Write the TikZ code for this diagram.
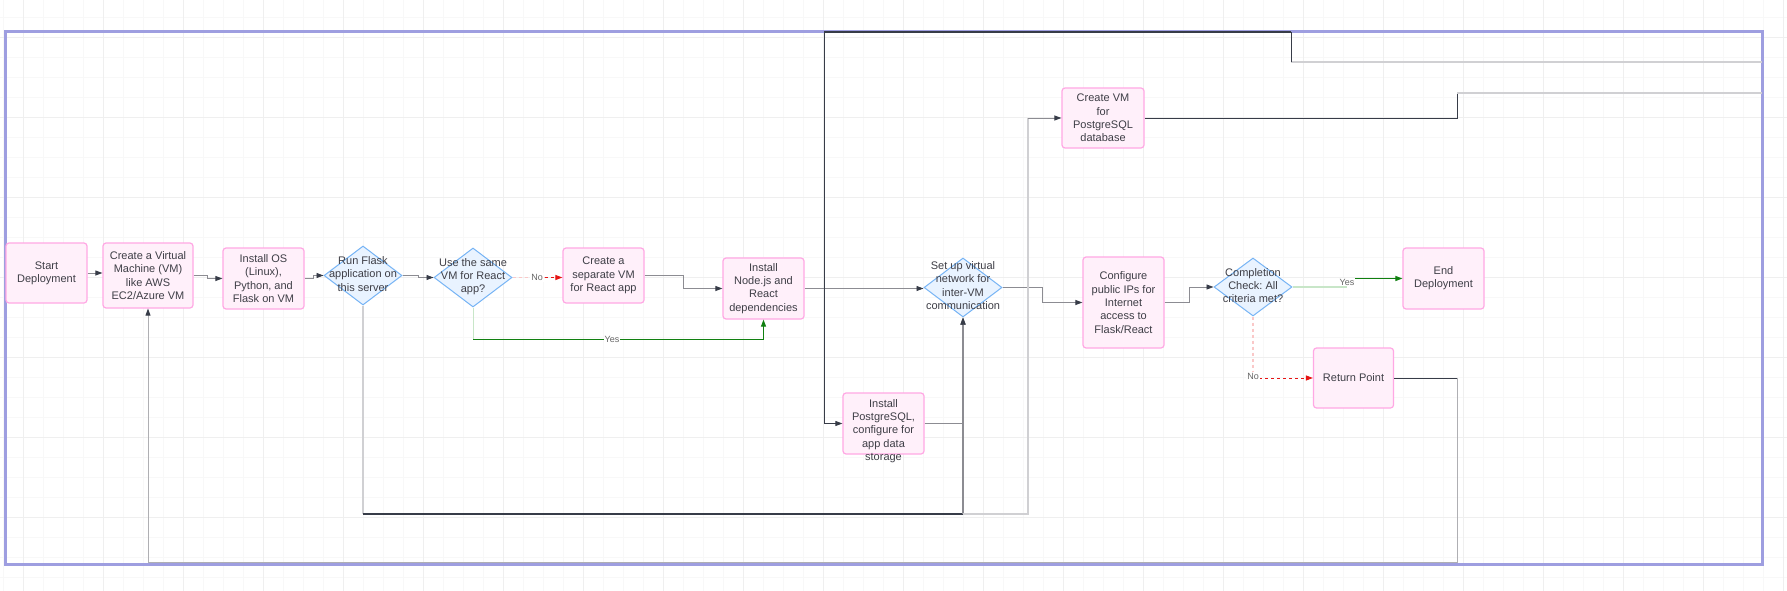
\documentclass[tikz,border=0pt]{standalone}
\usepackage{fontspec}
\setmainfont{Liberation Sans}
\usetikzlibrary{arrows.meta,shapes.geometric}
\frenchspacing
\definecolor{boxfill}{RGB}{255,240,250}
\definecolor{boxdraw}{RGB}{255,168,228}
\definecolor{diafill}{RGB}{233,243,255}
\definecolor{diadraw}{RGB}{118,180,245}
\definecolor{framecol}{RGB}{158,158,224}
\definecolor{txtcol}{RGB}{62,62,70}
\definecolor{darkln}{RGB}{55,60,72}
\definecolor{greyln}{RGB}{140,140,146}
\definecolor{lightln}{RGB}{208,208,211}
\definecolor{gridminor}{RGB}{248,248,248}
\definecolor{gridmajor}{RGB}{239,239,239}
\definecolor{yesgreen}{RGB}{16,128,16}
\definecolor{lightgreen}{RGB}{200,230,200}
\definecolor{nored}{RGB}{230,20,20}
\definecolor{lightred}{RGB}{250,200,200}
\tikzset{
  procbox/.style={rectangle, rounded corners=3pt, draw=boxdraw, fill=boxfill, line width=1.2pt, inner sep=0pt},
  decis/.style={diamond, draw=diadraw, fill=diafill, line width=1pt, inner sep=0pt},
  txt/.style={text=txtcol, align=center, font=\fontsize{11}{13.3}\selectfont, inner sep=0pt},
  elabel/.style={text=black!60, font=\fontsize{9}{10}\selectfont, fill=white, inner sep=1pt},
  tip/.style={-{Triangle[length=7pt,width=5pt,color=darkln]}},
  rtip/.style={-{Triangle[length=7pt,width=5pt,color=nored]}},
  gtip/.style={-{Triangle[length=7pt,width=5pt,color=yesgreen]}},
  conn/.style={draw=darkln, line width=0.8pt},
  gconn/.style={draw=greyln, line width=0.9pt},
  lconn/.style={draw=lightln, line width=1.6pt},
}
\begin{document}
\begin{tikzpicture}[x=1pt,y=-1pt]
\useasboundingbox (0,0) rectangle (1787,591);
\fill[white] (0,0) rectangle (1787,591);
% grid
\foreach \x in {3,23,...,1783} \draw[gridminor, line width=0.8pt] (\x,0) -- (\x,591);
\foreach \y in {17,37,...,587} \draw[gridminor, line width=0.8pt] (0,\y) -- (1787,\y);
\foreach \x in {23,103,...,1783} \draw[gridmajor, line width=0.8pt] (\x,0) -- (\x,591);
\foreach \y in {37,117,...,587} \draw[gridmajor, line width=0.8pt] (0,\y) -- (1787,\y);
% frame
\draw[framecol, line width=3pt] (5,32) rectangle (1762,564);

% nodes
\node[procbox, minimum width=81pt, minimum height=60pt] (start) at (46.5,273) {};
\node[txt] at (start) {Start\\Deployment};
\node[procbox, minimum width=90pt, minimum height=65pt] (cvm) at (148,275.5) {};
\node[txt] at (cvm) {Create a Virtual\\Machine (VM)\\like AWS\\EC2/Azure VM};
\node[procbox, minimum width=81pt, minimum height=61pt] (ios) at (263.5,278.5) {};
\node[txt] at (ios) {Install OS\\(Linux),\\Python, and\\Flask on VM};
\node[decis, minimum width=78pt, minimum height=59pt] (flask) at (363,275.5) {};
\node[txt] at (363,274) {Run Flask\\application on\\this server};
\node[decis, minimum width=78pt, minimum height=59pt] (same) at (473,277.5) {};
\node[txt] at (473,276.5) {Use the same\\VM for React\\app?};
\node[procbox, minimum width=81pt, minimum height=55pt] (sep) at (603.5,275.5) {};
\node[txt] at (sep) {Create a\\separate VM\\for React app};
\node[procbox, minimum width=81pt, minimum height=61pt] (nodejs) at (763.5,288.5) {};
\node[txt] at (nodejs) {Install\\Node.js and\\React\\dependencies};
\node[decis, minimum width=78pt, minimum height=59pt] (net) at (963,287.5) {};
\node[txt] at (963,285.5) {Set up virtual\\network for\\inter-VM\\communication};
\node[procbox, minimum width=81pt, minimum height=91pt] (cfg) at (1123.5,302.5) {};
\node[txt] at (cfg) {Configure\\public IPs for\\Internet\\access to\\Flask/React};
\node[decis, minimum width=78pt, minimum height=58pt] (chk) at (1253,287) {};
\node[txt] at (1253,285.5) {Completion\\Check: All\\criteria met?};
\node[procbox, minimum width=81pt, minimum height=61pt] (endn) at (1443.5,278.5) {};
\node[txt] at (endn) {End\\Deployment};
\node[procbox, minimum width=80pt, minimum height=60pt] (ret) at (1353.5,378) {};
\node[txt] at (ret) {Return Point};
\node[procbox, minimum width=82pt, minimum height=60pt] (pvm) at (1103,118) {};
\node[txt] at (pvm) {Create VM\\for\\PostgreSQL\\database};
\node[procbox, minimum width=81pt, minimum height=61pt] (pg) at (883.5,423.5) {};
\node[txt] at (883.5,431) {Install\\PostgreSQL,\\configure for\\app data\\storage};

\coordinate (fr1) at (1762,62);
\coordinate (fr2) at (1762,93);

% main flow connectors
\draw[gconn, tip] (start.east) -- (start.east -| cvm.west);
\draw[gconn, tip] (cvm.east) -- ++(14,0) |- (ios.west);
\draw[gconn, tip] (ios.east) -- ++(9,0) |- (flask.west);
\draw[gconn, tip] (flask.east) -- ++(16,0) |- (same.west);
\draw[lightred, dashed, line width=1pt] (same.east) -- (545,277.5);
\draw[nored, dashed, line width=1pt, rtip] (545,277.5) -- (same.east -| sep.west);
\node[elabel] (nolab1) at (537,277.5) {No};
\draw[gconn, tip] (sep.east) -- ++(39,0) |- (nodejs.west);
\draw[lightgreen, line width=1pt] (same.south) -- (473,339);
\draw[yesgreen, line width=1pt, gtip] (473,339) -| (nodejs.south);
\node[elabel] (yeslab1) at (612,339) {Yes};
\draw[gconn, tip] (nodejs.east) -- (nodejs.east -| net.west);
\draw[gconn, tip] (net.east) -- ++(40,0) |- (cfg.west);
\draw[gconn, tip] (cfg.east) -- ++(25,0) |- (chk.west);
\draw[lightgreen, line width=1.2pt] (chk.east) -- (1347,287);
\draw[yesgreen, line width=1pt, gtip] (1347,278.5) -- (endn.west);
\node[elabel] (yeslab2) at (1347,282) {Yes};
\draw[lightred, dashed, line width=1.2pt] (chk.south) -- (1253,378);
\draw[nored, dashed, line width=1pt, rtip] (1253,378) -- (ret.west);
\node[elabel] (nolab2) at (1253,376) {No};

% return loop
\draw[conn] (ret.east) -- (1457,378);
\draw[draw=greyln!70, line width=0.9pt, tip] (1457,378) -- (1457,562) -- (148,562) -- (cvm.south);

% Run Flask -> network / PostgreSQL VM
\draw[lconn] (flask.south) -- (363,514);
\draw[darkln, line width=1.1pt] (363,514) -- (963,514);
\draw[greyln, line width=1.3pt, tip] (963,514) -- (net.south);
\draw[lconn, line width=1.2pt] (963,514) -- (1028,514) -- (1028,118);
\draw[gconn, tip] (1028,118) -- (pvm.west);
\draw[gconn, tip] (pg.east) -| (net.south);

% top connector into PostgreSQL install
\draw[lconn] (fr1) -- (1291,62);
\draw[conn] (1291,62) -- (1291,32);
\draw[darkln, line width=1.2pt] (1291,32) -- (824,32);
\draw[conn, tip] (824,32) -- (824,423.5) -- (pg.west);

% PostgreSQL VM to frame
\draw[darkln, line width=0.9pt] (pvm.east) -- (1457,118) -- (1457,93);
\draw[lconn] (1457,93) -- (fr2);
\end{tikzpicture}
\end{document}
